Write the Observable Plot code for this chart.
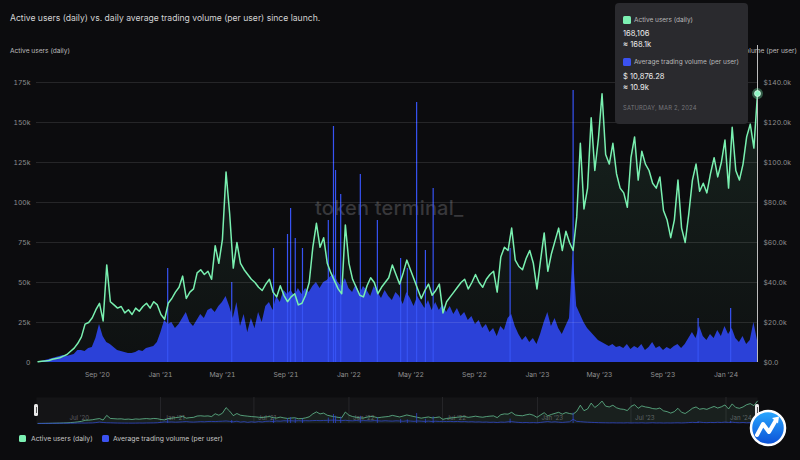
<!DOCTYPE html>
<html><head><meta charset="utf-8">
<script src="https://cdn.jsdelivr.net/npm/d3@7"></script>
<script src="https://cdn.jsdelivr.net/npm/@observablehq/plot@0.6"></script>
<style>
html,body{margin:0;padding:0;background:#0c0c0e;}
#root{position:relative;width:800px;height:460px;overflow:hidden;background:#0c0c0e;font-family:Inter,"Noto Sans",sans-serif;color:#cfcfcf;}
.abs{position:absolute;white-space:nowrap;line-height:10px;}
#title{left:10px;top:13px;font-size:8.6px;color:#d4d4d4;}
#yl{left:10px;top:46px;font-size:6.6px;color:#bdbdbd;}
#yr{right:3px;top:46px;font-size:6.6px;color:#bdbdbd;}
#wm{left:315px;top:196px;font-size:20px;font-weight:500;color:#38383b;line-height:24px;letter-spacing:0.2px;}
#tip{position:absolute;left:615px;top:3px;width:133px;height:121px;background:#2a2a2e;border-radius:4px;}
#tip .sw{position:absolute;width:8px;height:8px;border-radius:1.5px;}
#tip .t{position:absolute;white-space:nowrap;line-height:10px;}
.lab{font-size:6.5px;color:#b8b8b8;}
.val{font-size:7.6px;color:#ececec;}
.dt{font-size:5.8px;color:#76767a;letter-spacing:0.2px;}
.handle{position:absolute;top:404px;width:4px;height:12px;background:#e9e9e9;border-radius:1.5px;}
.handle::after{content:"";position:absolute;left:1.5px;top:3px;width:1px;height:6px;background:#555;}
.lg{position:absolute;top:435px;width:7px;height:7px;border-radius:1.5px;}
.lgt{position:absolute;top:434px;font-size:6.8px;color:#c4c4c4;white-space:nowrap;line-height:10px;}
</style></head>
<body><div id="root">
<div id="title" class="abs">Active users (daily) vs. daily average trading volume (per user) since launch.</div>
<div id="yl" class="abs">Active users (daily)</div>
<div id="yr" class="abs">Average trading volume (per user)</div>
<div id="L1" style="position:absolute;left:0;top:40px"></div>
<div id="wm" class="abs">token terminal_</div>
<div id="L2" style="position:absolute;left:0;top:40px"></div>
<div id="L3" style="position:absolute;left:0;top:40px"></div>
<div id="tip">
  <div class="sw" style="left:8px;top:13px;background:#7cf0b2"></div>
  <div class="t lab" style="left:19px;top:12px">Active users (daily)</div>
  <div class="t val" id="tu1" style="left:8px;top:26px"></div>
  <div class="t val" id="tu2" style="left:8px;top:37px"></div>
  <div class="sw" style="left:8px;top:55px;background:#3b52f0"></div>
  <div class="t lab" style="left:19px;top:54px">Average trading volume (per user)</div>
  <div class="t val" id="tv1" style="left:8px;top:69px"></div>
  <div class="t val" id="tv2" style="left:8px;top:80px"></div>
  <div class="t dt" id="td" style="left:8px;top:100px"></div>
</div>
<div id="B1" style="position:absolute;left:0;top:397px"></div>
<div id="B2" style="position:absolute;left:0;top:397px"></div>
<div class="handle" style="left:34px"></div>
<div class="handle" style="left:755px"></div>
<div class="lg" style="left:19px;background:#7cf0b2"></div>
<div class="lgt" style="left:31px">Active users (daily)</div>
<div class="lg" style="left:102px;background:#3b52f0"></div>
<div class="lgt" style="left:113px">Average trading volume (per user)</div>
<svg width="40" height="40" viewBox="0 0 40 40" style="position:absolute;left:748px;top:408px">
<defs><linearGradient id="lgo" x1="0" y1="0" x2="0" y2="1"><stop offset="0" stop-color="#2aa9ff"/><stop offset="1" stop-color="#0b4fd6"/></linearGradient></defs>
<circle cx="20" cy="20" r="17" fill="url(#lgo)" stroke="#fff" stroke-width="2.5"/>
<path d="M9 27 L15 16 L21 24 L28 12" fill="none" stroke="#fff" stroke-width="4" stroke-linejoin="round" stroke-linecap="round"/>
<path d="M24 10 L31 8.5 L30 15.5 Z" fill="#fff"/>
</svg>
</div>
<script>
// ---------- data (weekly samples) ----------
const weekStart = "2020-05-09"; // first weekly sample; one sample every 7 days, last = 2024-03-02
const activeUsersK = [
  0.5, 0.8, 1, 1.2, 2, 2.5, 3, 4, 5, 7,
  9, 12, 16, 24, 25, 28, 33, 37, 26, 61,
  38, 36, 34, 35, 31, 33, 30, 34, 32, 35,
  37, 34, 38, 36, 30, 27, 37, 40, 44, 47,
  54, 40, 44, 46, 56, 58, 55, 57, 52, 73,
  62, 77, 119, 93, 59, 75, 62, 58, 55, 52,
  50, 47, 45, 49, 52, 44, 41, 48, 42, 38,
  41, 43, 36, 37, 42, 50, 72, 87, 72, 78,
  62, 56, 51, 46, 43, 86, 62, 52, 47, 42,
  41, 48, 53, 50, 43, 47, 50, 53, 61, 55,
  49, 56, 64, 58, 52, 46, 40, 45, 49, 42,
  45, 49, 31, 38, 41, 44, 47, 50, 52, 46,
  50, 55, 50, 47, 52, 55, 57, 44, 66, 72,
  70, 84, 64, 60, 58, 65, 70, 62, 46, 64,
  81, 57, 68, 76, 84, 70, 82, 75, 70, 91,
  137, 96, 109, 153, 120, 140, 168, 130, 124, 137,
  118, 109, 106, 97, 128, 141, 114, 132, 124, 120,
  112, 109, 116, 95, 89, 78, 89, 114, 84, 75,
  93, 114, 124, 107, 112, 106, 118, 128, 116, 125,
  139, 109, 147, 120, 114, 124, 141, 149, 134, 168.106
];
const avgVolumeK = [
  0, 0.5, 1, 1.5, 2, 2.5, 3, 3.5, 3, 3.5,
  4, 6, 6, 5.5, 7, 7.5, 12, 19, 13, 10,
  9, 7.5, 6, 5.5, 5, 4.5, 4.5, 5, 6, 5.5,
  7, 7.5, 8, 10, 15, 21, 19, 20, 17, 19,
  22, 25, 20, 18, 21, 24, 22, 26, 27, 25,
  28, 30, 33, 28, 22, 30, 18, 24, 15, 22,
  17, 25, 20, 28, 30, 26, 33, 30, 36, 34,
  36, 33, 37, 34, 37, 35, 38, 40, 37, 40,
  41, 43, 44, 40, 38, 42, 37, 35, 39, 34,
  38, 36, 33, 38, 35, 32, 36, 33, 31, 35,
  33, 29, 35, 32, 28, 33, 30, 27, 31, 26,
  30, 26, 29, 25, 28, 24, 27, 23, 25, 21,
  23, 19, 21, 17, 19, 15, 17, 13, 18, 16,
  22, 24, 18, 14, 11, 13, 10, 12, 9, 14,
  20, 25, 18, 22, 17, 14, 18, 22, 55, 28,
  24, 20, 17, 15, 13, 11, 10, 9, 8, 9,
  7.5, 8, 7, 9, 6.5, 8, 7, 9, 6, 7.5,
  10, 7, 8, 6, 7.5, 6.5, 8, 9, 7, 9,
  12, 15, 12, 18, 13, 11, 14, 12, 16, 13,
  18, 14, 17, 12, 10, 13, 9, 11, 20, 10.9
];
// single-day volume spikes
const spikeDates = ["2021-01-15","2021-05-19","2021-08-08","2021-09-04","2021-09-10","2021-09-19","2021-10-03",
  "2021-11-22","2021-12-02","2021-12-06","2021-12-16","2022-01-23","2022-02-25","2022-04-11","2022-04-24",
  "2022-05-12","2022-05-29","2022-06-13","2022-11-09","2023-03-11","2023-11-08","2024-01-10"];
const spikeVolumeK = [47, 40, 57, 64, 77, 62, 57, 71, 118, 96, 84, 94, 71, 52, 47, 130, 56, 87, 57, 136, 22, 27];

const xTickDates = ["2020-09-01","2021-01-01","2021-05-01","2021-09-01","2022-01-01","2022-05-01",
  "2022-09-01","2023-01-01","2023-05-01","2023-09-01","2024-01-01"];
const xTickLabels = ["Sep ’20","Jan ’21","May ’21","Sep ’21","Jan ’22","May ’22","Sep ’22","Jan ’23","May ’23","Sep ’23","Jan ’24"];
const yUserTicks = [0, 25, 50, 75, 100, 125, 150, 175];
const yVolTicks = [0, 20, 40, 60, 80, 100, 120, 140];
const brushTickDates = ["2020-07-01","2021-01-01","2021-07-01","2022-01-01","2022-07-01","2023-01-01","2023-07-01","2024-01-01"];
const brushTickLabels = ["Jul ’20","Jan ’21","Jul ’21","Jan ’22","Jul ’22","Jan ’23","Jul ’23","Jan ’24"];
const tipDate = "2024-03-02", tipUsers = 168106, tipVolume = 10876.28;

// ---------- build ----------
const utc = s => new Date(s + "T00:00:00Z");
const start = utc(weekStart);
const rows = activeUsersK.map((u, i) => ({date: d3.utcDay.offset(start, 7 * i), users: u, vol: avgVolumeK[i]}));
const spikes = spikeDates.map((d, i) => ({date: utc(d), vol: spikeVolumeK[i]}));
const lastRow = rows[rows.length - 1];
const labelMap = new Map(xTickDates.map((d, i) => [+utc(d), xTickLabels[i]]));
const brushRows = brushTickDates.map((d, i) => ({date: utc(d), label: brushTickLabels[i]}));

const GREEN = "#79f0b0", BLUE = "#2b41d8", BLUE2 = "#3753f4";
const X = {type: "utc", domain: [utc("2020-05-06"), utc("2024-03-02")], axis: null};
const M = {width: 800, height: 345, marginLeft: 36, marginRight: 43, marginTop: 42, marginBottom: 23};
const style = {background: "transparent", color: "#8e8e8e", fontFamily: "Inter, sans-serif", fontSize: "6.8px", overflow: "visible"};

function gradDefs(id, color, o1, o2) {
  return () => {
    const defs = d3.create("svg:defs");
    const g = defs.append("linearGradient").attr("id", id).attr("x1", 0).attr("y1", 0).attr("x2", 0).attr("y2", 1);
    g.append("stop").attr("offset", "0%").attr("stop-color", color).attr("stop-opacity", o1);
    g.append("stop").attr("offset", "100%").attr("stop-color", color).attr("stop-opacity", o2);
    return defs.node();
  };
}

// layer 1: faint area under users
document.getElementById("L1").append(Plot.plot({...M, style, x: X, y: {domain: [0, 175], axis: null},
  marks: [gradDefs("ugrad", GREEN, 0.1, 0.02), Plot.areaY(rows, {x: "date", y: "users", fill: "url(#ugrad)"})]}));

// layer 2: volume (right axis)
document.getElementById("L2").append(Plot.plot({...M, style, x: X, y: {domain: [0, 140], axis: null},
  marks: [
    Plot.areaY(rows, {x: "date", y: "vol", fill: BLUE}),
    Plot.ruleX(spikes, {x: "date", y1: 0, y2: "vol", stroke: BLUE2, strokeWidth: 1.2}),
    Plot.axisY({anchor: "right", ticks: yVolTicks, tickFormat: d => d === 0 ? "$0.0" : "$" + d.toFixed(1) + "k", tickSize: 0, tickPadding: 6, label: null})
  ]}));

// layer 3: users line, grid, axes, cursor
document.getElementById("L3").append(Plot.plot({...M, style, x: X, y: {domain: [0, 175], axis: null},
  marks: [
    Plot.gridY({ticks: yUserTicks.filter(d => d > 0), stroke: "#ffffff", strokeOpacity: 0.11}),
    Plot.axisY({ticks: yUserTicks, tickFormat: d => d === 0 ? "0" : d + "k", tickSize: 0, tickPadding: 6, label: null}),
    Plot.axisX({ticks: xTickDates.map(utc), tickFormat: d => labelMap.get(+d), tickSize: 0, tickPadding: 10, label: null}),
    Plot.lineY(rows, {x: "date", y: "users", stroke: GREEN, strokeWidth: 1.5}),
    Plot.ruleX([lastRow], {x: "date", stroke: "#bdbdbd", strokeWidth: 1, insetTop: -37}),
    Plot.dot([lastRow], {x: "date", y: "users", r: 5.5, fill: GREEN, fillOpacity: 0.35}),
    Plot.dot([lastRow], {x: "date", y: "users", r: 3, fill: "#8ff7c4", stroke: "#e8fff2", strokeWidth: 0.7})
  ]}));

// brush
const B = {width: 800, height: 26, marginLeft: 36, marginRight: 43, marginTop: 0, marginBottom: 0};
document.getElementById("B1").append(Plot.plot({...B, style, x: X, y: {domain: [0, 195], axis: null},
  marks: [
    Plot.frame({fill: "#141416"}),
    Plot.ruleX(brushRows.slice(1), {x: "date", stroke: "#27272a", strokeWidth: 1}),
    Plot.text(brushRows, {x: "date", text: "label", frameAnchor: "bottom", textAnchor: "start", dx: 4, dy: -4, fill: "#5d5d60", fontSize: 6.2}),
    Plot.areaY(rows, {x: "date", y: "users", fill: GREEN, fillOpacity: 0.06}),
    Plot.lineY(rows, {x: "date", y: "users", stroke: "#6fd6a2", strokeWidth: 0.8, strokeOpacity: 0.85})
  ]}));
document.getElementById("B2").append(Plot.plot({...B, style, x: X, y: {domain: [0, 340], axis: null},
  marks: [
    Plot.lineY(rows, {x: "date", y: "vol", stroke: "#3046c8", strokeWidth: 0.8}),
    Plot.ruleX(spikes, {x: "date", y1: 0, y2: "vol", stroke: "#3046c8", strokeWidth: 0.8})
  ]}));

// tooltip texts
document.getElementById("tu1").textContent = d3.format(",")(tipUsers);
document.getElementById("tu2").textContent = "≈ " + d3.format(".1f")(tipUsers / 1000) + "k";
document.getElementById("tv1").textContent = "$ " + d3.format(",.2f")(tipVolume);
document.getElementById("tv2").textContent = "≈ " + d3.format(".1f")(tipVolume / 1000) + "k";
document.getElementById("td").textContent = d3.utcFormat("%A, %b %-d, %Y")(utc(tipDate)).toUpperCase();
</script>
</body></html>
